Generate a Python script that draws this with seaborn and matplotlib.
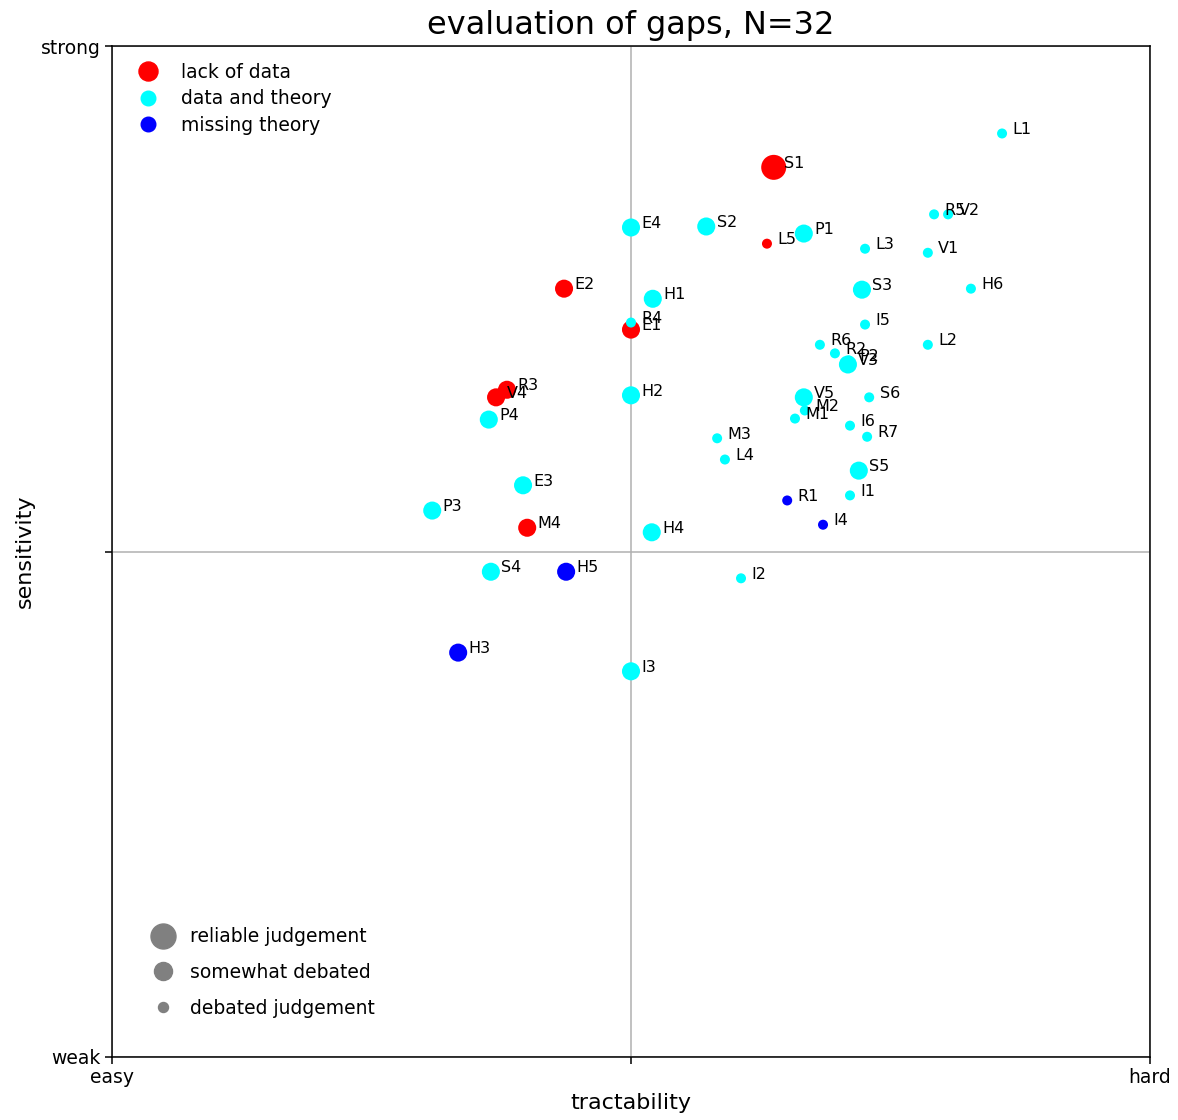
import matplotlib
matplotlib.use("Agg")
import matplotlib.pyplot as plt
from matplotlib.lines import Line2D
import pandas as pd
import seaborn as sns

# gap evaluation: tractability (easy -1 .. hard 1), sensitivity (weak -1 .. strong 1)
gaps = ["S1", "L5", "E2", "E1", "R3", "V4", "M4",
        "L1", "R5", "V2", "E4", "S2", "P1", "L3", "V1", "S3", "H6", "H1", "R4",
        "I5", "R6", "L2", "R2", "P2", "V3", "H2", "V5", "M2", "M1", "S6", "P4",
        "I6", "R7", "M3", "L4", "S5", "E3", "I1", "P3", "H4", "S4", "I2", "I3",
        "R1", "I4", "H5", "H3"]
tractability = [0.275, 0.262, -0.129, 0.0, -0.239, -0.26, -0.20,
                0.715, 0.584, 0.611, 0.0, 0.145, 0.333, 0.451, 0.572, 0.445, 0.655, 0.042, 0.0,
                0.451, 0.364, 0.572, 0.393, 0.42, 0.418, 0.0, 0.333, 0.335, 0.316, 0.459, -0.274,
                0.422, 0.455, 0.166, 0.181, 0.439, -0.208, 0.422, -0.383, 0.04, -0.27, 0.212, 0.0,
                0.301, 0.37, -0.125, -0.333]
sensitivity = [0.76, 0.609, 0.52, 0.439, 0.32, 0.305, 0.047,
               0.827, 0.667, 0.667, 0.641, 0.643, 0.629, 0.599, 0.591, 0.518, 0.52, 0.50, 0.453,
               0.449, 0.409, 0.409, 0.392, 0.378, 0.37, 0.309, 0.305, 0.279, 0.263, 0.305, 0.261,
               0.249, 0.227, 0.224, 0.182, 0.16, 0.131, 0.111, 0.081, 0.038, -0.04, -0.053, -0.237,
               0.101, 0.053, -0.04, -0.20]
category = (["lack of data"] * 7 + ["data and theory"] * 36 + ["missing theory"] * 4)
judgement = ["reliable judgement", "debated judgement", "somewhat debated", "somewhat debated",
             "somewhat debated", "somewhat debated", "somewhat debated",
             "debated judgement", "debated judgement", "debated judgement", "somewhat debated",
             "somewhat debated", "somewhat debated", "debated judgement", "debated judgement",
             "somewhat debated", "debated judgement", "somewhat debated", "debated judgement",
             "debated judgement", "debated judgement", "debated judgement", "debated judgement",
             "debated judgement", "somewhat debated", "somewhat debated", "somewhat debated",
             "debated judgement", "debated judgement", "debated judgement", "somewhat debated",
             "debated judgement", "debated judgement", "debated judgement", "debated judgement",
             "somewhat debated", "somewhat debated", "debated judgement", "somewhat debated",
             "somewhat debated", "somewhat debated", "debated judgement", "somewhat debated",
             "debated judgement", "debated judgement", "somewhat debated", "somewhat debated"]

colors = {"lack of data": "red", "data and theory": "cyan", "missing theory": "blue"}
sizes = {"reliable judgement": 324, "somewhat debated": 169, "debated judgement": 52}

df = pd.DataFrame({"gap": gaps, "tractability": tractability, "sensitivity": sensitivity,
                   "category": category, "judgement": judgement})

fig, ax = plt.subplots(figsize=(11.78, 11.2), dpi=100)
fig.subplots_adjust(left=0.0951, right=0.9762, top=0.9589, bottom=0.05625)

sns.scatterplot(data=df, x="tractability", y="sensitivity", hue="category", palette=colors,
                size="judgement", sizes=sizes, linewidth=0, edgecolor="none",
                legend=False, ax=ax, zorder=3)

for _, row in df.iterrows():
    ax.annotate(row.gap, (row.tractability, row.sensitivity), xytext=(7.5, 3),
                textcoords="offset points", va="center", fontsize=11.5, zorder=4)

ax.set_xlim(-1, 1)
ax.set_ylim(-1, 1)
ax.set_xticks([-1, 0, 1])
ax.set_xticklabels(["easy", "", "hard"])
ax.set_yticks([-1, 0, 1])
ax.set_yticklabels(["weak", "", "strong"])
ax.tick_params(labelsize=13.5, length=4.7, width=1.1)
ax.grid(True, color="#b0b0b0", lw=1.1)
ax.set_axisbelow(True)
for sp in ax.spines.values():
    sp.set_linewidth(1.1)

ax.set_xlabel("tractability", fontsize=16)
ax.set_ylabel("sensitivity", fontsize=16)
ax.set_title("evaluation of gaps, N=32", fontsize=23, pad=9)

# colour legend (marker size = mean of the group's sizes, like a scatter legend)
leg_handles = [Line2D([], [], marker="o", ls="", color="red", markersize=13.7),
               Line2D([], [], marker="o", ls="", color="cyan", markersize=10.5),
               Line2D([], [], marker="o", ls="", color="blue", markersize=10.5)]
leg1 = ax.legend(leg_handles, list(colors.keys()), loc="upper left", frameon=False,
                 fontsize=13.5, labelspacing=0.4)
ax.add_artist(leg1)

size_handles = [Line2D([], [], marker="o", ls="", color="gray", markersize=s ** 0.5)
                for s in sizes.values()]
ax.legend(size_handles, list(sizes.keys()), loc="lower left", bbox_to_anchor=(0.021, 0.022),
          frameon=False, fontsize=13.5, labelspacing=0.9, handlelength=1.3)

plt.savefig("out.png", dpi=100)
